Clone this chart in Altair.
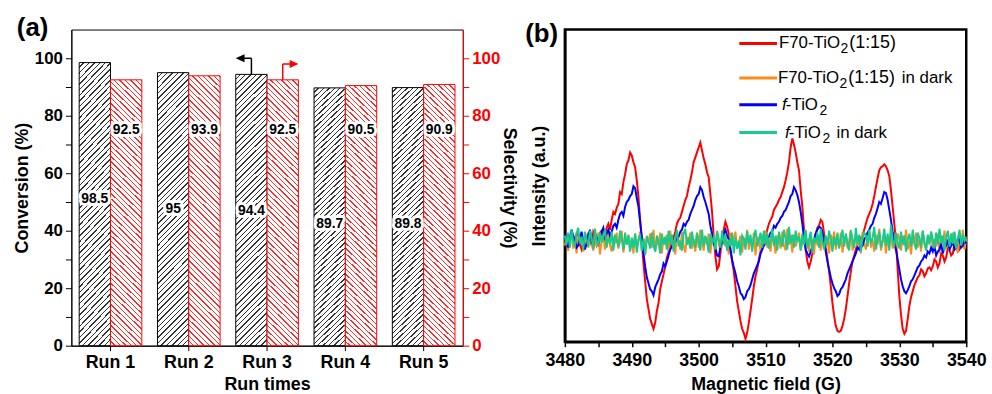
import altair as alt
import pandas as pd

FONT = "Liberation Sans"

# ---------------- panel (a) data ----------------
runs = ["Run 1", "Run 2", "Run 3", "Run 4", "Run 5"]
conversion = [98.5, 95.0, 94.4, 89.7, 89.8]
selectivity = [92.5, 93.9, 92.5, 90.5, 90.9]
conv_labels = ["98.5", "95", "94.4", "89.7", "89.8"]
sel_labels = ["92.5", "93.9", "92.5", "90.5", "90.9"]

# ---------------- panel (b) data (0.25 G steps) ----------------
field = [3480 + 0.25 * i for i in range(241)]

red = [
    5, -2, -6, 3, 10, 1, -2, 8, 7, -3, -8, 0, 4, -5, 9, 2, -4, 10, 6, -3,
    2, 9, 11, 3, 8, 14, 18, 12, 22, 30, 28, 34, 38, 50, 48, 60, 68, 78, 82, 90,
    87, 80, 75, 62, 45, 22, 0, -22, -40, -58, -68, -78, -83, -88, -82, -70, -62, -48, -40, -33,
    -25, -16, -11, -2, -5, 4, 10, 18, 22, 24, 30, 36, 42, 46, 55, 62, 70, 80, 85, 90,
    95, 100, 92, 84, 78, 70, 65, 48, 30, 5, -15, -28, -25, -12, 0, 12, 20, 15, 8, -8,
    -20, -30, -45, -60, -70, -80, -88, -92, -98, -92, -82, -70, -58, -45, -35, -28, -18, -10, -5, 2,
    5, 12, 18, 22, 25, 32, 35, 38, 42, 45, 50, 55, 62, 70, 80, 95, 104, 98, 90, 80,
    72, 52, 35, 12, -8, -20, -26, -20, -12, -2, 8, 14, 16, 22, 20, 8, -5, -18, -30, -45,
    -62, -75, -85, -90, -91, -90, -85, -78, -68, -55, -42, -30, -20, -14, -8, -2, 0, 4, 6, 12,
    18, 24, 28, 32, 38, 46, 55, 64, 72, 75, 76, 78, 76, 72, 66, 52, 35, 18, 0, -28,
    -55, -74, -88, -93, -90, -78, -65, -56, -50, -44, -40, -36, -34, -28, -30, -35, -32, -27, -26, -29,
    -25, -18, -20, -26, -22, -12, -14, -20, -16, -6, -8, -14, -12, -2, -4, -10, -8, 2, 0, -6,
    -5]
orange = [
    -4, 6, -9, 2, 10, -7, 3, -12, 5, -1, 8, -10, -2, 7, -6, 11, -3, -9, 4, -5,
    9, -13, 1, 6, -8, 3, 12, -4, -10, 5, -2, 9, -7, 0, 11, -11, 4, -3, 7, -8,
    2, -12, 8, -5, 1, 10, -9, 3, -14, 6, -1, 8, -6, 12, -10, 2, -4, 9, -12, 4,
    -3, 7, -9, 11, -5, 1, -13, 6, 2, -8, 10, -4, -11, 5, -1, 9, -7, 3, -10, 8,
    -6, 12, 0, -9, 5, -3, 8, -12, 2, 6, -8, 11, -2, -10, 4, 7, -5, 1, -13, 9,
    -4, 3, 10, -7, -1, 6, -11, 4, -3, 12, -8, 2, -6, 9, -14, 5, 0, -9, 7, -2,
    11, -6, 3, -10, 8, -1, -12, 6, 2, -7, 10, -4, -9, 13, -3, 4, -11, 7, -5, 1,
    9, -8, -2, 12, -6, 3, -10, 5, 0, -13, 8, -4, 6, -9, 11, -2, -7, 4, -12, 7,
    -1, 10, -8, 2, -5, 9, -11, 3, 6, -7, 1, 12, -9, -3, 8, -6, 4, -12, 10, -2,
    -8, 5, 11, -6, 2, -10, 7, -3, 13, -9, 0, 6, -12, 4, -5, 10, -7, 2, -11, 8,
    3, -9, 6, -4, 12, -8, 1, -13, 7, -2, 9, -6, 4, -10, 11, -3, -7, 5, -1, 10,
    -9, 3, -5, 8, -12, 6, -2, 11, -7, 1, -10, 4, 9, -6, 2, -11, 7, -3, 12, -8,
    3]
blue = [
    8, 0, -6, 4, 12, 6, 2, -6, -4, 3, 10, 0, -8, -2, 6, 12, 0, -4, 9, 4,
    -2, 4, 10, 14, 4, 8, 12, 6, 10, 16, 18, 14, 22, 28, 30, 26, 35, 40, 42, 46,
    48, 56, 54, 44, 35, 20, 5, -12, -25, -36, -42, -48, -50, -54, -46, -42, -38, -33, -30, -22,
    -25, -20, -14, -8, -5, -1, 0, 6, 5, 10, 12, 18, 16, 20, 22, 28, 32, 36, 42, 46,
    48, 55, 52, 45, 40, 34, 28, 16, 8, -2, -6, -14, -15, -6, 0, 8, 12, 6, 2, -8,
    -18, -26, -32, -40, -45, -52, -54, -58, -56, -50, -48, -44, -38, -32, -28, -24, -20, -12, -8, -4,
    -2, 3, 5, 9, 10, 16, 14, 18, 20, 24, 26, 30, 32, 36, 40, 46, 48, 55, 52, 47,
    40, 30, 18, 4, -8, -12, -15, -10, -5, 2, 8, 12, 15, 14, 10, 0, -10, -20, -28, -36,
    -42, -47, -50, -55, -53, -48, -46, -42, -38, -32, -28, -24, -20, -16, -12, -6, -8, -2, -4, 2,
    5, 9, 12, 16, 18, 24, 28, 34, 40, 38, 44, 50, 49, 42, 32, 22, 10, 0, -8, -18,
    -28, -38, -45, -50, -52, -49, -45, -40, -38, -34, -30, -26, -24, -20, -18, -14, -16, -10, -12, -6,
    -10, -4, -14, -10, -8, -2, -12, -6, -4, 2, -8, -4, 0, -8, -6, 3, 2, -6, -4, 1,
    -2]
green = [
    6, -3, 9, -6, 12, 0, -4, 8, 14, -2, 5, -8, 10, 2, -5, 11, 3, -7, 13, 1,
    -4, 9, -1, 6, 12, -6, 4, -2, 10, -9, 7, 1, -5, 11, 3, -8, 9, -3, 6, -10,
    4, -6, 8, -11, 2, 7, -9, 3, -13, 5, 0, -7, 9, -4, -10, 6, 1, -12, 8, -3,
    5, -8, 11, -2, 7, -10, 3, 12, -5, 1, -9, 8, 13, -3, 2, -7, 10, -1, -6, 9,
    1, -9, 12, -4, 6, 0, -11, 8, -2, 5, -8, 10, 3, -6, 11, -3, 7, -9, 2, -5,
    9, -12, 4, -7, 1, -14, 6, 3, -8, 10, -2, 7, -10, 4, 12, -5, 1, 9, -6, 11,
    -3, 8, -7, 2, 13, -4, 6, -9, 10, 1, -5, 12, 3, -8, 15, -2, 7, -6, 11, 0,
    5, -9, 8, -3, 12, -7, 2, 10, -11, 4, -1, 9, -6, 13, 0, -8, 6, -3, 11, 2,
    -10, 5, -4, 9, -7, 2, 12, -5, 8, -1, -9, 11, 3, -6, 14, -2, 7, -10, 4, 9,
    6, -5, 12, -2, 4, 15, -8, 3, 10, -6, 1, 13, -4, 8, -9, 17, 2, -5, 9, -1,
    -7, 10, -3, 6, -10, 2, 8, -5, 12, -2, -8, 9, 4, -6, 11, 0, -9, 7, -3, 10,
    2, -7, 9, -3, 13, -1, 6, -9, 4, 11, -5, 8, -2, 10, -7, 3, 12, -4, 7, 1,
    5]
series_names = ["F70-TiO2(1:15)", "F70-TiO2(1:15) in dark", "f-TiO2", "f-TiO2 in dark"]
series_values = [red, orange, blue, green]
series_colors = ["#ff0000", "#ff8c1a", "#0000ff", "#14cc8c"]


# ---------------- hatch fills (style) ----------------
def hatch(color, backslash, n=56, dark=0.26):
    stops = []
    for k in range(n):
        s = k / n
        m = (k + 1 - dark) / n
        e = (k + 1) / n
        stops += [alt.GradientStop(offset=round(s, 5), color="white"),
                  alt.GradientStop(offset=round(m, 5), color="white"),
                  alt.GradientStop(offset=round(m, 5), color=color),
                  alt.GradientStop(offset=round(e, 5), color=color)]
    if backslash:
        return alt.LinearGradient(gradient="linear", stops=stops, x1=0, y1=1, x2=0.1265, y2=-0.1)
    return alt.LinearGradient(gradient="linear", stops=stops, x1=0, y1=0, x2=0.1265, y2=1.1)


# ---------------- panel (a) ----------------
df_a = pd.DataFrame({
    "run": runs * 2,
    "series": ["Conversion"] * 5 + ["Selectivity"] * 5,
    "value": conversion + selectivity,
    "label": conv_labels + sel_labels,
})

x_a = alt.X("run:N", sort=runs, title="Run times",
            scale=alt.Scale(domain=runs, paddingInner=0.2, paddingOuter=0.1),
            axis=alt.Axis(labelAngle=0, labelFontSize=18, labelFontWeight="bold", labelFont=FONT,
                          titleFontSize=18, titleFontWeight="bold", titleFont=FONT,
                          tickSize=5, labelPadding=3, titlePadding=4,
                          domainColor="black", tickColor="black", labelColor="black",
                          titleColor="black"))
off_a = alt.XOffset("series:N", scale=alt.Scale(domain=["Conversion", "Selectivity"],
                                                 paddingInner=0, paddingOuter=0))
ysc_a = alt.Scale(domain=[0, 110], nice=False)

tick_vals = list(range(0, 101, 10))
lab_expr = "datum.value % 20 === 0 ? datum.label : ''"
left_axis = alt.Axis(title="Conversion (%)", values=tick_vals, labelExpr=lab_expr, tickSize=6,
                     labelFontSize=17, labelFontWeight="bold", labelFont=FONT,
                     titleFontSize=18, titleFontWeight="bold", titleFont=FONT,
                     labelPadding=3, titlePadding=3, grid=False,
                     domainColor="black", tickColor="black", labelColor="black", titleColor="black")
right_axis = alt.Axis(orient="right", title="Selectivity (%)", values=tick_vals, labelExpr=lab_expr,
                      tickSize=6, labelFontSize=17, labelFontWeight="bold", labelFont=FONT,
                      titleFontSize=18, titleFontWeight="bold", titleFont=FONT,
                      labelPadding=3, titlePadding=0, grid=False,
                      domainColor="red", tickColor="red", labelColor="red", titleColor="black")

bars_conv = alt.Chart(df_a).transform_filter("datum.series === 'Conversion'").mark_bar(
    fill=hatch("#333333", False), stroke="black", strokeWidth=1
).encode(x=x_a, xOffset=off_a, y=alt.Y("value:Q", scale=ysc_a, axis=left_axis))

bars_sel = alt.Chart(df_a).transform_filter("datum.series === 'Selectivity'").mark_bar(
    fill=hatch("#ff2a2a", True), stroke="red", strokeWidth=1
).encode(x=x_a, xOffset=off_a, y=alt.Y("value:Q", scale=ysc_a, axis=right_axis))

lab_base = alt.Chart(df_a).transform_calculate(
    ly="datum.series === 'Conversion' ? datum.value - 47.5 : 75"
).encode(x=x_a, xOffset=off_a, y=alt.Y("ly:Q", scale=ysc_a, axis=None), text="label:N")
halo = lab_base.mark_text(font=FONT, fontSize=14, fontWeight="bold", color="white",
                          stroke="white", strokeWidth=6, strokeJoin="round")
labels = lab_base.mark_text(font=FONT, fontSize=14, fontWeight="bold", color="black")

df_arr = pd.DataFrame({"run": [runs[2]] * 2, "series": ["Conversion", "Selectivity"],
                       "y": [conversion[2], selectivity[2]], "y2": [100.0, 98.0]})
arr_scale = alt.Scale(domain=["Conversion", "Selectivity"], range=["black", "red"])
stem = alt.Chart(df_arr).mark_rule(strokeWidth=1.5).encode(
    x=x_a, xOffset=off_a, y=alt.Y("y:Q", scale=ysc_a, axis=None), y2="y2:Q",
    color=alt.Color("series:N", scale=arr_scale, legend=None))
path_left = "M0,0L-1,0M-1,0L-0.55,-0.2L-0.55,0.2Z"
path_right = "M0,0L1,0M1,0L0.55,-0.2L0.55,0.2Z"
head = alt.Chart(df_arr).mark_point(size=784, opacity=1, strokeWidth=1.5).encode(
    x=x_a, xOffset=off_a, y=alt.Y("y2:Q", scale=ysc_a, axis=None),
    fill=alt.Fill("series:N", scale=arr_scale, legend=None),
    stroke=alt.Stroke("series:N", scale=arr_scale, legend=None),
    shape=alt.Shape("series:N", scale=alt.Scale(domain=["Conversion", "Selectivity"],
                                                range=[path_left, path_right]), legend=None))

tag_a = alt.Chart(pd.DataFrame({"t": ["(a)"]})).mark_text(
    font=FONT, fontSize=26, fontWeight="bold", align="left", baseline="middle", color="black"
).encode(text="t:N", x=alt.value(-55), y=alt.value(-1))

panel_a = alt.layer(bars_conv, bars_sel, halo, labels, stem, head, tag_a).resolve_axis(
    y="independent").properties(width=395, height=319,
                                view=alt.ViewBackground(stroke="black", strokeWidth=1))

# ---------------- panel (b) ----------------
frames = []
for name, vals in zip(series_names, series_values):
    frames.append(pd.DataFrame({"field": field, "intensity": vals, "series": name}))
df_b = pd.concat(frames, ignore_index=True)

x_b = alt.X("field:Q", title="Magnetic field (G)",
            scale=alt.Scale(domain=[3480, 3540], nice=False, zero=False),
            axis=alt.Axis(values=list(range(3480, 3541, 5)),
                          labelExpr="datum.value % 10 === 0 ? datum.label : ''", format="d",
                          labelFlush=False, labelOverlap=False,
                          tickSize=5, tickWidth=1.5, domainWidth=2.5, domainColor="black",
                          tickColor="black", labelColor="black", titleColor="black",
                          labelFontSize=18, labelFontWeight="bold", labelFont=FONT,
                          titleFontSize=18, titleFontWeight="bold", titleFont=FONT,
                          labelPadding=5, titlePadding=6, grid=False))
y_b = alt.Y("intensity:Q", title="Intensity (a.u.)",
            scale=alt.Scale(domain=[-101, 214], nice=False, zero=False),
            axis=alt.Axis(labels=False, ticks=False, domainWidth=2.5, domainColor="black",
                          titleFontSize=18, titleFontWeight="bold", titleFont=FONT,
                          titleColor="black", titlePadding=17, grid=False))

lines = []
for name, color in zip(series_names, series_colors):
    lines.append(alt.Chart(df_b).transform_filter(alt.datum.series == name).mark_line(
        color=color, strokeWidth=2).encode(x=x_b, y=y_b))

one = pd.DataFrame({"a": [0]})


def legend_line(color, y):
    return alt.Chart(one).mark_rule(color=color, strokeWidth=3).encode(
        x=alt.value(176), x2=alt.value(214), y=alt.value(y))


def legend_text(txt, x, y, size=17, style="normal"):
    return alt.Chart(pd.DataFrame({"t": [txt]})).mark_text(
        font=FONT, fontSize=size, fontStyle=style, align="left", baseline="middle", color="black"
    ).encode(text="t:N", x=alt.value(x), y=alt.value(y))


leg = [
    legend_line(series_colors[0], 14),
    legend_text("F70-TiO", 216, 14), legend_text("2", 278, 20, 14),
    legend_text("(1:15)", 287, 14, 18),
    legend_line(series_colors[1], 49),
    legend_text("F70-TiO", 215, 49), legend_text("2", 277, 55, 14),
    legend_text("(1:15)", 286, 49, 18), legend_text("in dark", 340, 49),
    legend_line(series_colors[2], 76),
    legend_text("f", 219, 76, style="italic"), legend_text("-TiO", 223, 76),
    legend_text("2", 257, 82, 14),
    legend_line(series_colors[3], 104),
    legend_text("f", 222, 104, style="italic"), legend_text("-TiO", 226, 104),
    legend_text("2", 260, 110, 14), legend_text("in dark", 274, 104),
]

tag_b = alt.Chart(pd.DataFrame({"t": ["(b)"]})).mark_text(
    font=FONT, fontSize=26, fontWeight="bold", align="left", baseline="middle", color="black"
).encode(text="t:N", x=alt.value(-40), y=alt.value(5))

panel_b = alt.layer(*lines, *leg, tag_b).properties(
    width=405, height=315, view=alt.ViewBackground(stroke="black", strokeWidth=2.5))

chart = alt.hconcat(panel_a, panel_b, spacing=103, bounds="flush").properties(
    padding={"left": 13, "top": 13, "right": 4, "bottom": 2}
).configure(font=FONT)

chart.save("out.html", embed_options={"renderer": "svg", "actions": False})
